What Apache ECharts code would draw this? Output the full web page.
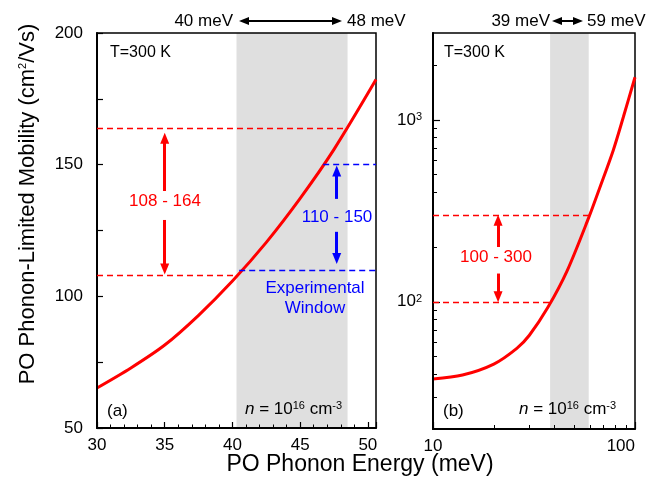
<!DOCTYPE html>
<html>
<head>
<meta charset="utf-8">
<script src="https://cdn.jsdelivr.net/npm/echarts@6/dist/echarts.min.js"></script>
<style>
  html, body { margin: 0; padding: 0; background: #fff; }
  #chart { width: 660px; height: 483px; }
</style>
</head>
<body>
<div id="chart"></div>
<script>
  // panel (a): mobility vs phonon energy, linear axes
  var energyA = [30, 32.5, 35, 37.5, 40, 42.5, 45, 47.5, 50.6];
  var mobilityA = [65.2, 72.8, 81.5, 92.8, 105.8, 120.5, 137.2, 155.8, 182.3];
  // panel (b): same thing, log-log
  var energyB = [10, 14, 20, 26, 30, 37, 46, 59, 67, 78, 87.5, 100];
  var mobilityB = [37.7, 39.6, 45.5, 55.5, 65.5, 93, 147, 290, 425, 679, 1033, 1714];

  var bandA = [40.3, 48.5];
  var bandB = [38, 59];
  var theoryA = [108, 164];
  var windowA = [110, 150];
  var theoryB = [100, 300];

  var xLabelsA = [30, 35, 40, 45, 50];
  var xMajorB = [10, 100];
  var xMinorB = [20, 30, 40, 50, 60, 70, 80, 90];
  var yMajorB = [100, 1000];
  var yMinorB = [20, 30, 40, 50, 60, 70, 80, 90, 200, 300, 400, 500, 600, 700, 800, 900, 2000];

  var font = '"Liberation Sans", Arial, sans-serif';
  var RED = '#ff0000';
  var BLUE = '#0000ff';

  var chart = echarts.init(document.getElementById('chart'));

  function pairs(xs, ys) {
    return xs.map(function (x, i) { return [x, ys[i]]; });
  }

  function dashed(color, x0, x1, y) {
    return [
      { coord: [x0, y], lineStyle: { color: color, width: 1.3, type: [6, 4] }, symbol: 'none' },
      { coord: [x1, y], symbol: 'none' }
    ];
  }

  function arrow(color, x, yFrom, yTo) {
    return [
      { coord: [x, yFrom], lineStyle: { color: color, width: 3, type: 'solid' }, symbol: 'none' },
      { coord: [x, yTo], symbol: 'triangle', symbolSize: [9, 11] }
    ];
  }

  function topArrow(x0, x1, y) {
    return [
      { x: x0, y: y, lineStyle: { color: '#000', width: 2, type: 'solid' }, symbol: 'triangle', symbolSize: [8, 10] },
      { x: x1, y: y, symbol: 'triangle', symbolSize: [8, 10] }
    ];
  }

  function txt(x, y, text, opt) {
    opt = opt || {};
    return {
      type: 'text', x: x, y: y, rotation: opt.rotation || 0, z: 20,
      style: {
        text: text,
        fill: opt.color || '#000',
        font: (opt.size || 17) + 'px ' + font,
        align: opt.align || 'center',
        verticalAlign: 'middle',
        rich: {
          s: { fontSize: 11, verticalAlign: 'top', fill: opt.color || '#000', fontFamily: font },
          i: { fontSize: opt.size || 17, fontStyle: 'italic', fill: opt.color || '#000', fontFamily: font }
        }
      }
    };
  }

  var axisLine = { show: true, lineStyle: { color: '#000', width: 2 } };
  var labelStyle = { color: '#000', fontSize: 17, fontFamily: font };

  chart.setOption({
    animation: false,
    textStyle: { fontFamily: font },
    grid: [
      { left: 97, top: 33, width: 279, height: 395, show: true, z: 3, borderColor: '#000', borderWidth: 1.5, backgroundColor: 'transparent' },
      { left: 433, top: 33, width: 202, height: 396, show: true, z: 3, borderColor: '#000', borderWidth: 1.5, backgroundColor: 'transparent' }
    ],
    xAxis: [
      {
        type: 'value', gridIndex: 0, position: 'bottom', min: 30, max: 50.6, interval: 5, z: 4,
        axisLine: axisLine,
        axisTick: { inside: true, length: 6, lineStyle: { color: '#000', width: 1.2 } },
        minorTick: { show: true, splitNumber: 5, length: 3.5, lineStyle: { color: '#000', width: 1 } },
        axisLabel: Object.assign({ margin: 9, customValues: xLabelsA }, labelStyle),
        splitLine: { show: false }
      },
      {
        type: 'log', gridIndex: 1, position: 'bottom', min: 10, max: 100, z: 4,
        axisLine: axisLine,
        axisTick: { inside: true, length: 7, customValues: xMajorB, lineStyle: { color: '#000', width: 1.2 } },
        axisLabel: Object.assign({ margin: 9, customValues: xMajorB, alignMaxLabel: 'right' }, labelStyle),
        splitLine: { show: false }
      },
      {
        type: 'log', gridIndex: 1, position: 'bottom', min: 10, max: 100, z: 4,
        axisLine: { show: false },
        axisTick: { inside: true, length: 4, customValues: xMinorB, lineStyle: { color: '#000', width: 1 } },
        axisLabel: { show: false },
        splitLine: { show: false }
      }
    ],
    yAxis: [
      {
        type: 'value', gridIndex: 0, position: 'left', min: 50, max: 200, interval: 50, z: 4,
        axisLine: axisLine,
        axisTick: { inside: true, length: 6, lineStyle: { color: '#000', width: 1.2 } },
        minorTick: { show: true, splitNumber: 2, length: 6, lineStyle: { color: '#000', width: 1.2 } },
        axisLabel: Object.assign({ margin: 14 }, labelStyle),
        splitLine: { show: false }
      },
      {
        type: 'log', gridIndex: 1, position: 'left', min: 20, max: 3000, z: 4,
        axisLine: axisLine,
        axisTick: { inside: true, length: 7, customValues: yMajorB, lineStyle: { color: '#000', width: 1.2 } },
        axisLabel: Object.assign({
          margin: 11, customValues: yMajorB,
          formatter: function (v) { return '10{s|' + Math.round(Math.log10(v)) + '}'; },
          rich: { s: { fontSize: 11, verticalAlign: 'top', color: '#000', fontFamily: font } }
        }, labelStyle),
        splitLine: { show: false }
      },
      {
        type: 'log', gridIndex: 1, position: 'left', min: 20, max: 3000, z: 4,
        axisLine: { show: false },
        axisTick: { inside: true, length: 4, customValues: yMinorB, lineStyle: { color: '#000', width: 1 } },
        axisLabel: { show: false },
        splitLine: { show: false }
      }
    ],
    series: [
      {
        type: 'line', xAxisIndex: 0, yAxisIndex: 0, clip: false,
        data: pairs(energyA, mobilityA), smooth: 0.3, symbol: 'none',
        lineStyle: { color: RED, width: 3 },
        markArea: {
          silent: true, z: 1,
          itemStyle: { color: '#dfdfdf' },
          data: [[{ xAxis: bandA[0] }, { xAxis: bandA[1] }]]
        },
        markLine: {
          silent: true, animation: false, label: { show: false },
          data: [
            dashed(RED, 30, 48.4, theoryA[1]),
            dashed(RED, 30, 40.3, theoryA[0]),
            dashed(BLUE, 46.7, 50.6, windowA[1]),
            dashed(BLUE, 40.5, 50.6, windowA[0]),
            arrow(RED, 35, 140, 160),
            arrow(RED, 35, 129, 110.4),
            arrow(BLUE, 47.7, 137, 147.6),
            arrow(BLUE, 47.7, 124.5, 114.4),
            topArrow(244, 337, 21)
          ]
        }
      },
      {
        type: 'line', xAxisIndex: 1, yAxisIndex: 1, clip: false,
        data: pairs(energyB, mobilityB), smooth: 0.3, symbol: 'none',
        lineStyle: { color: RED, width: 3 },
        markArea: {
          silent: true, z: 1,
          itemStyle: { color: '#dfdfdf' },
          data: [[{ xAxis: bandB[0] }, { xAxis: bandB[1] }]]
        },
        markLine: {
          silent: true, animation: false, label: { show: false },
          data: [
            dashed(RED, 10, 59.5, theoryB[1]),
            dashed(RED, 10, 37.8, theoryB[0]),
            arrow(RED, 21, 200, 281),
            arrow(RED, 21, 143, 106.5),
            topArrow(557, 578, 21)
          ]
        }
      }
    ],
    graphic: [
      txt(233, 21, '40 meV', { align: 'right' }),
      txt(347, 21, '48 meV', { align: 'left' }),
      txt(550, 21, '39 meV', { align: 'right' }),
      txt(587, 21, '59 meV', { align: 'left' }),
      txt(110, 53, 'T=300 K', { align: 'left', size: 16 }),
      txt(444, 53, 'T=300 K', { align: 'left', size: 16 }),
      txt(107, 411, '(a)', { align: 'left' }),
      txt(443, 411, '(b)', { align: 'left' }),
      txt(245, 409, '{i|n} = 10{s|16} cm{s|-3}', { align: 'left' }),
      txt(519, 409, '{i|n} = 10{s|16} cm{s|-3}', { align: 'left' }),
      txt(165, 201, '108 - 164', { color: RED }),
      txt(337, 217, '110 - 150', { color: BLUE }),
      txt(315, 288, 'Experimental', { color: BLUE }),
      txt(315, 308, 'Window', { color: BLUE }),
      txt(496, 257, '100 - 300', { color: RED }),
      txt(360, 465, 'PO Phonon Energy (meV)', { size: 23 }),
      txt(28, 204, 'PO Phonon-Limited Mobility (cm{s|2}/Vs)', { size: 22, rotation: Math.PI / 2 })
    ]
  });
</script>
</body>
</html>
